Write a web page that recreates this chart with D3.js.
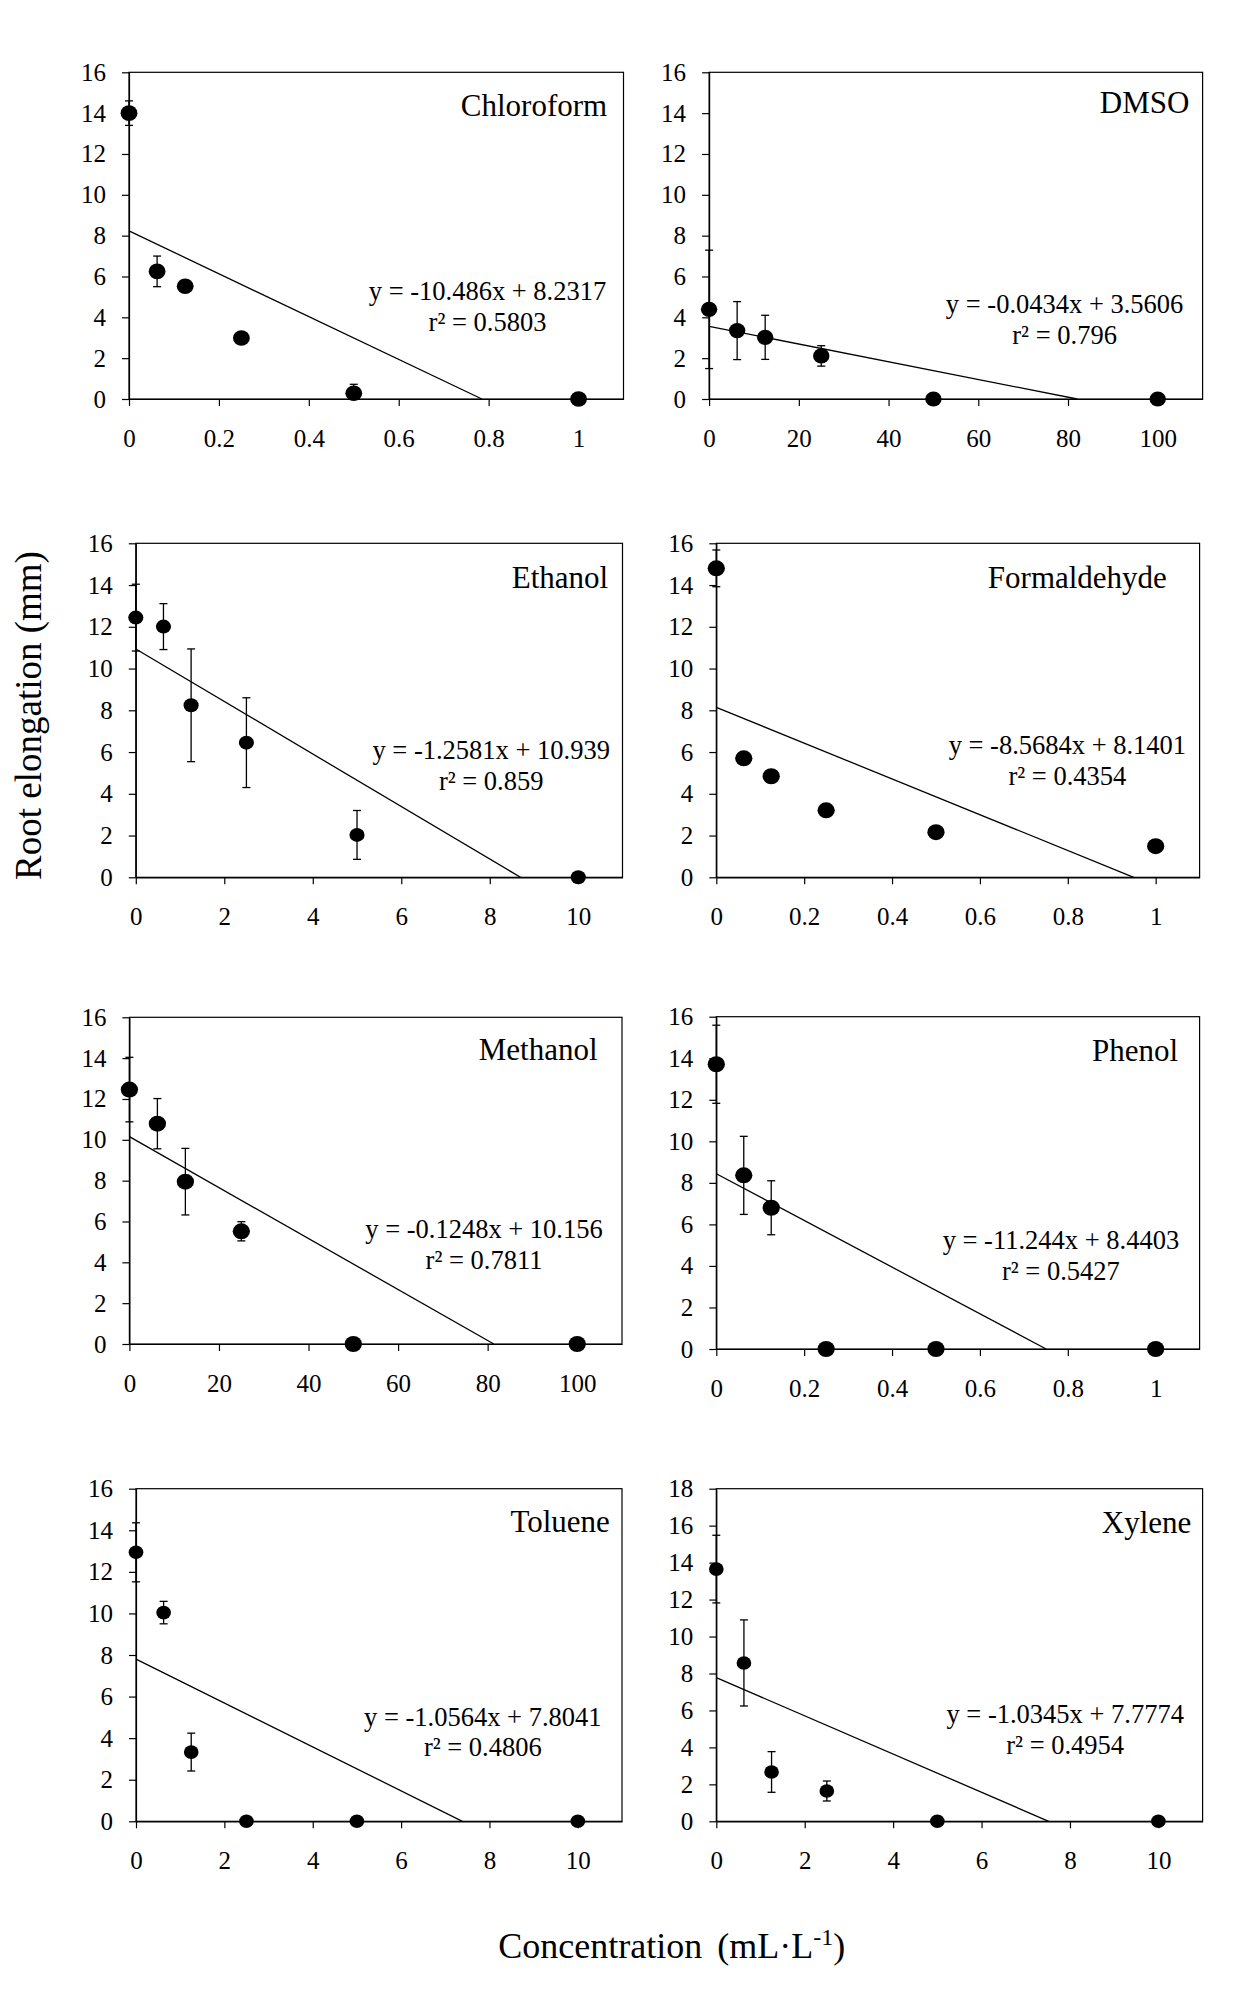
<!DOCTYPE html>
<html><head><meta charset="utf-8">
<script src="https://cdn.jsdelivr.net/npm/d3@7"></script>
<style>
body{margin:0;background:#fff}
text{font-family:"Liberation Serif","Times New Roman",serif;fill:#000}
</style>
</head><body>
<svg id="c" width="1233" height="2003"></svg>
<script>
// ---------------- DATA ----------------
const solvents = ["Chloroform","DMSO","Ethanol","Formaldehyde","Methanol","Phenol","Toluene","Xylene"];
const concLow  = [0, 0.0625, 0.125, 0.25, 0.5, 1];
const concMid  = [0, 0.625, 1.25, 2.5, 5, 10];
const concHigh = [0, 6.25, 12.5, 25, 50, 100];

const chloroformMean   = [14.0, 6.25, 5.52, 2.99, 0.28, 0];
const chloroformSE     = [0.6, 0.75, 0, 0, 0.44, 0];
const dmsoMean         = [4.39, 3.35, 3.02, 2.11, 0, 0];
const dmsoSE           = [2.9, 1.42, 1.08, 0.5, 0, 0];
const ethanolMean      = [12.44, 12.01, 8.24, 6.45, 2.03, 0];
const ethanolSE        = [1.6, 1.1, 2.7, 2.15, 1.17, 0];
const formaldehydeMean = [14.80, 5.70, 4.84, 3.21, 2.16, 1.49];
const formaldehydeSE   = [0.88, 0, 0, 0, 0, 0];
const methanolMean     = [12.46, 10.79, 7.95, 5.52, 0, 0];
const methanolSE       = [1.58, 1.23, 1.63, 0.47, 0, 0];
const phenolMean       = [13.71, 8.36, 6.80, 0, 0, 0];
const phenolSE         = [1.88, 1.88, 1.3, 0, 0, 0];
const tolueneMean      = [12.94, 10.04, 3.33, 0, 0, 0];
const tolueneSE        = [1.42, 0.54, 0.91, 0, 0, 0];
const xyleneMean       = [13.65, 8.57, 2.67, 1.64, 0, 0];
const xyleneSE         = [1.83, 2.33, 1.1, 0.54, 0, 0];

const slopes     = [-10.486, -0.0434, -1.2581, -8.5684, -0.1248, -11.244, -1.0564, -1.0345];
const intercepts = [8.2317, 3.5606, 10.939, 8.1401, 10.156, 8.4403, 7.8041, 7.7774];
const eqLabels   = ["y = -10.486x + 8.2317","y = -0.0434x + 3.5606","y = -1.2581x + 10.939","y = -8.5684x + 8.1401",
                    "y = -0.1248x + 10.156","y = -11.244x + 8.4403","y = -1.0564x + 7.8041","y = -1.0345x + 7.7774"];
const r2Labels   = ["r² = 0.5803","r² = 0.796","r² = 0.859","r² = 0.4354","r² = 0.7811","r² = 0.5427","r² = 0.4806","r² = 0.4954"];

const xTicksLow  = [0, 0.2, 0.4, 0.6, 0.8, 1];
const xTicksMid  = [0, 2, 4, 6, 8, 10];
const xTicksHigh = [0, 20, 40, 60, 80, 100];
const yTicks16   = [0, 2, 4, 6, 8, 10, 12, 14, 16];
const yTicks18   = [0, 2, 4, 6, 8, 10, 12, 14, 16, 18];

const yAxisTitle = "Root elongation (mm)";
const xAxisTitleA = "Concentration";
const xAxisTitleB = "(mL·L";

// ---------------- ASSEMBLY ----------------
const series = [
  {x: concLow,  m: chloroformMean,   e: chloroformSE,   xt: xTicksLow,  xMax: 1.1, yt: yTicks16, yMax: 16},
  {x: concHigh, m: dmsoMean,         e: dmsoSE,         xt: xTicksHigh, xMax: 110, yt: yTicks16, yMax: 16},
  {x: concMid,  m: ethanolMean,      e: ethanolSE,      xt: xTicksMid,  xMax: 11,  yt: yTicks16, yMax: 16},
  {x: concLow,  m: formaldehydeMean, e: formaldehydeSE, xt: xTicksLow,  xMax: 1.1, yt: yTicks16, yMax: 16},
  {x: concHigh, m: methanolMean,     e: methanolSE,     xt: xTicksHigh, xMax: 110, yt: yTicks16, yMax: 16},
  {x: concLow,  m: phenolMean,       e: phenolSE,       xt: xTicksLow,  xMax: 1.1, yt: yTicks16, yMax: 16},
  {x: concMid,  m: tolueneMean,      e: tolueneSE,      xt: xTicksMid,  xMax: 11,  yt: yTicks16, yMax: 16},
  {x: concMid,  m: xyleneMean,       e: xyleneSE,       xt: xTicksMid,  xMax: 11,  yt: yTicks18, yMax: 18}
];

// layout (plot boxes, label placement)
const layout = [
  {l:129.0, t:72.3,   r:623.5,  b:399,    tr:16.3, tb:43.4, ex:487.5,  ey:300,    rad:7.8},
  {l:709.1, t:72.3,   r:1202.6, b:399,    tr:13.2, tb:40.7, ex:1064.6, ey:313,    rad:7.6},
  {l:135.8, t:543.3,  r:622.5,  b:877.3,  tr:14.3, tb:44.4, ex:491.2,  ey:759,    rad:7.0},
  {l:716.3, t:543.3,  r:1199.6, b:877.3,  tr:32.7, tb:44.4, ex:1067.4, ey:754,    rad:8.0},
  {l:129.4, t:1017.3, r:622,    b:1344,   tr:24.4, tb:42.7, ex:484.0,  ey:1238,   rad:8.0},
  {l:716.3, t:1016.7, r:1199.6, b:1349,   tr:21.5, tb:44.3, ex:1060.9, ey:1249,   rad:8.0},
  {l:136.0, t:1488.7, r:622,    b:1821.3, tr:12.2, tb:43.0, ex:482.8,  ey:1725.7, rad:6.8},
  {l:716.3, t:1488.7, r:1202.6, b:1821.3, tr:11.3, tb:44.0, ex:1065.2, ey:1723,   rad:6.8}
];

const svg = d3.select("#c");
const fmt = d => String(d);

series.forEach((s, i) => {
  const L = layout[i];
  const g = svg.append("g");
  const x = d3.scaleLinear().domain([0, s.xMax]).range([L.l, L.r]);
  const y = d3.scaleLinear().domain([0, s.yMax]).range([L.b, L.t]);

  g.append("rect").attr("x", L.l).attr("y", L.t).attr("width", L.r - L.l).attr("height", L.b - L.t)
    .attr("fill", "none").attr("stroke", "#000").attr("stroke-width", 1.2);

  const ay = g.append("g").attr("transform", `translate(${L.l},0)`)
    .call(d3.axisLeft(y).tickValues(s.yt).tickFormat(fmt).tickSize(7).tickSizeOuter(0).tickPadding(16));
  const ax = g.append("g").attr("transform", `translate(0,${L.b})`)
    .call(d3.axisBottom(x).tickValues(s.xt).tickFormat(fmt).tickSize(7).tickSizeOuter(0).tickPadding(23));
  [ay, ax].forEach(a => {
    a.selectAll("path,line").attr("stroke", "#000").attr("stroke-width", 1.2);
    a.selectAll("text").attr("font-size", 25).attr("font-family", "Liberation Serif, Times New Roman, serif").attr("fill", "#000");
  });

  // regression line, from x=0 to x-intercept
  const x0 = -intercepts[i] / slopes[i];
  g.append("path")
    .attr("d", d3.line()([[x(0), y(intercepts[i])], [x(x0), y(0)]]))
    .attr("stroke", "#000").attr("stroke-width", 1.3).attr("fill", "none");

  // error bars
  const pts = s.x.map((cx, k) => ({cx, m: s.m[k], e: s.e[k]}));
  const eb = g.append("g").attr("stroke", "#000").attr("stroke-width", 1.3);
  pts.filter(p => p.e > 0).forEach(p => {
    const hi = p.m + p.e, lo = Math.max(0, p.m - p.e);
    eb.append("line").attr("x1", x(p.cx)).attr("x2", x(p.cx)).attr("y1", y(hi)).attr("y2", y(lo));
    eb.append("line").attr("x1", x(p.cx) - 4).attr("x2", x(p.cx) + 4).attr("y1", y(hi)).attr("y2", y(hi));
    if (p.m - p.e >= 0)
      eb.append("line").attr("x1", x(p.cx) - 4).attr("x2", x(p.cx) + 4).attr("y1", y(lo)).attr("y2", y(lo));
  });

  // points
  g.append("g").selectAll("ellipse").data(pts).join("ellipse")
    .attr("cx", p => x(p.cx)).attr("cy", p => y(p.m))
    .attr("rx", L.rad * 1.08).attr("ry", L.rad).attr("fill", "#000");

  // title
  g.append("text").attr("x", L.r - L.tr).attr("y", L.t + L.tb).attr("text-anchor", "end")
    .attr("font-size", 31).text(solvents[i]);
  // equation
  g.append("text").attr("x", L.ex).attr("y", L.ey).attr("text-anchor", "middle")
    .attr("font-size", 26.5).text(eqLabels[i]);
  g.append("text").attr("x", L.ex).attr("y", L.ey + 30.5).attr("text-anchor", "middle")
    .attr("font-size", 26.5).text(r2Labels[i]);
});

// axis titles
const yt = svg.append("text").attr("transform", "translate(41,715.5) rotate(-90)")
  .attr("text-anchor", "middle").attr("font-size", 37);
yt.append("tspan").text(yAxisTitle);

const xt = svg.append("text").attr("x", 498.3).attr("y", 1958).attr("font-size", 36);
xt.append("tspan").text(xAxisTitleA);
xt.append("tspan").attr("dx", 15).text(xAxisTitleB);
xt.append("tspan").attr("font-size", 24).attr("dy", -13).text("-1");
xt.append("tspan").attr("font-size", 36).attr("dy", 13).text(")");
</script>
</body></html>
